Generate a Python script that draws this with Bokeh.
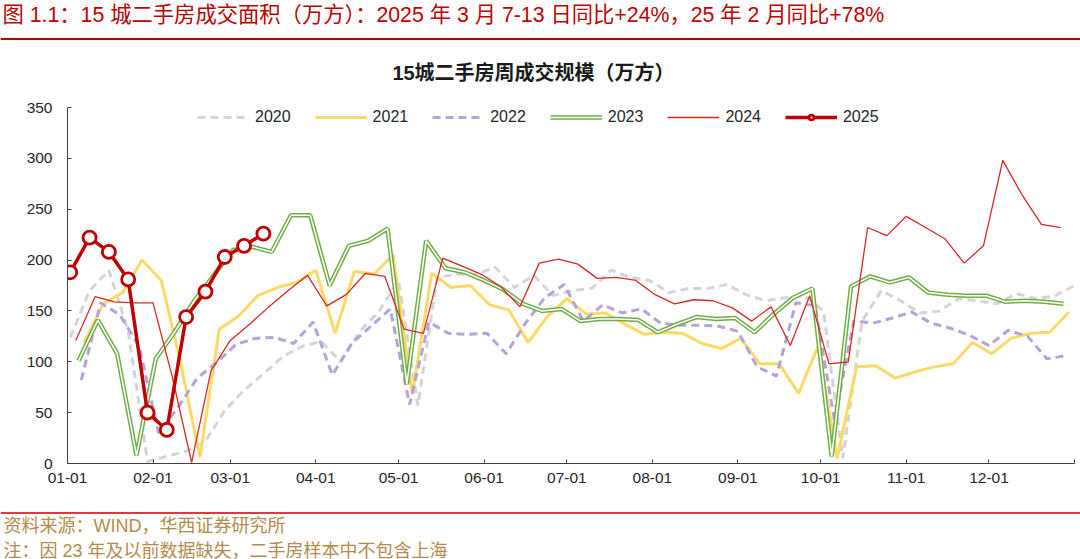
import pandas as pd
from bokeh.plotting import figure
from bokeh.layouts import column
from bokeh.models import Range1d, FixedTicker, Legend, LegendItem
from bokeh.core.properties import value
from bokeh.embed import file_html
from bokeh.resources import INLINE

# ---------------- data ----------------
month_ticks = [0, 31, 59, 90, 120, 151, 181, 212, 243, 273, 304, 334, 365]
month_labels = ["01-01", "02-01", "03-01", "04-01", "05-01", "06-01", "07-01",
                "08-01", "09-01", "10-01", "11-01", "12-01", ""]
y_ticks = [0, 50, 100, 150, 200, 250, 300, 350]

# first weekly data date (Thursday) of each year
start_2020 = "2020-01-02"
start_2021 = "2021-01-07"
start_2022 = "2022-01-06"
start_2023 = "2023-01-05"
start_2024 = "2024-01-04"
start_2025 = "2025-01-02"

v2020 = [124, 170, 190, 130, 2, 7, 12, 22, 52, 72, 88, 105, 115, 120, 100, 130, 150, 180,
         57, 183, 186, 186, 193, 173, 185, 165, 170, 172, 190, 183, 180, 168, 172, 172, 176,
         166, 160, 163, 165, 150, 5, 140, 170, 160, 148, 150, 162, 160, 157, 167, 162, 165, 175]
v2021 = [119, 157, 168, 200, 180, 99, 6, 132, 145, 165, 173, 178, 190, 128, 189, 186, 205,
         68, 187, 173, 175, 156, 151, 119, 145, 162, 147, 148, 137, 127, 129, 128, 118, 113,
         123, 98, 98, 69, 115, 5, 95, 96, 84, 90, 95, 98, 119, 108, 123, 128, 129, 149]
v2022 = [82, 158, 146, 115, 30, 55, 84, 99, 117, 123, 124, 118, 139, 87, 118, 135, 152, 58,
         139, 128, 127, 128, 108, 138, 163, 176, 140, 156, 148, 152, 138, 136, 136, 135, 130,
         95, 86, 158, 155, 42, 140, 138, 143, 149, 138, 133, 126, 116, 131, 125, 103, 106]
v2023 = [101, 141, 108, 8, 103, 130, 160, 185, 210, 213, 208, 244, 244, 175, 214, 219, 231,
         78, 219, 192, 188, 180, 171, 157, 150, 152, 140, 142, 142, 141, 129, 137, 144, 142,
         143, 129, 147, 163, 172, 7, 174, 184, 178, 183, 168, 166, 165, 165, 159, 160, 159, 157]
v2024 = [121, 164, 159, 158, 158, 85, 1, 91, 121, 137, 154, 170, 185, 155, 166, 187, 184,
         132, 128, 202, 194, 186, 174, 154, 197, 201, 196, 182, 183, 180, 166, 157, 161, 160,
         153, 140, 154, 116, 165, 98, 100, 232, 224, 243, 232, 221, 197, 214, 298, 264, 235, 232]
v2025 = [188, 222, 208, 181, 50, 33, 144, 169, 203, 214, 226]

title_text = "图 1.1：15 城二手房成交面积（万方）：2025 年 3 月 7-13 日同比+24%，25 年 2 月同比+78%"
chart_title = "15城二手房周成交规模（万方）"
source_text = "资料来源：WIND，华西证券研究所"
note_text = "注：因 23 年及以前数据缺失，二手房样本中不包含上海"


def week_x(start, n):
    d = pd.date_range(start, periods=n, freq="7D")
    base = pd.Timestamp(d[0].year, 1, 1)
    return [int(v) for v in (d - base).days]


x2020 = week_x(start_2020, len(v2020))
x2021 = week_x(start_2021, len(v2021))
x2022 = week_x(start_2022, len(v2022))
x2023 = week_x(start_2023, len(v2023))
x2024 = week_x(start_2024, len(v2024))
x2025 = week_x(start_2025, len(v2025))

FONT = "Liberation Sans, Noto Sans CJK SC"
W = 1080
TOP_H = 90
MAIN_H = 415
BOT_H = 54


def blank(h):
    f = figure(width=W, height=h, output_backend="svg", toolbar_location=None,
               x_range=Range1d(0, W), y_range=Range1d(h, 0),
               x_axis_type=None, y_axis_type=None, min_border=0, frame_align=False)
    f.outline_line_color = None
    f.xgrid.grid_line_color = None
    f.ygrid.grid_line_color = None
    f.background_fill_color = "white"
    f.border_fill_color = "white"
    return f


# ---------------- header ----------------
top = blank(TOP_H)
top.text(x=[2], y=[14], text=[title_text], text_font=value(FONT), text_font_size="21.3px",
         text_color="#c00000", text_baseline="middle", text_align="left")
top.line(x=[0, W], y=[38.5, 38.5], line_color="#c00000", line_width=2)
top.text(x=[533], y=[72], text=[chart_title], text_font=value(FONT), text_font_size="20px",
         text_font_style="bold", text_color="#1a1a1a", text_baseline="middle",
         text_align="center")

# ---------------- main chart ----------------
p = figure(width=W, height=MAIN_H, output_backend="svg", toolbar_location=None,
           x_range=Range1d(0, 365), y_range=Range1d(0, 350), frame_align=False,
           min_border_left=67, min_border_right=6, min_border_top=17, min_border_bottom=42)
p.outline_line_color = None
p.xgrid.grid_line_color = None
p.ygrid.grid_line_color = None
p.background_fill_color = "white"
p.border_fill_color = "white"

for ax in (p.xaxis[0], p.yaxis[0]):
    ax.axis_line_color = "#404040"
    ax.axis_line_width = 1
    ax.major_tick_line_color = "#404040"
    ax.major_tick_in = 4
    ax.major_tick_out = 0
    ax.minor_tick_line_color = None
    ax.major_label_text_font = "Liberation Sans"
    ax.major_label_text_font_size = "15.5px"
    ax.major_label_text_color = "#262626"

p.xaxis.ticker = FixedTicker(ticks=month_ticks)
p.xaxis.major_label_overrides = {t: l for t, l in zip(month_ticks, month_labels)}
p.xaxis.major_label_standoff = 9
p.yaxis.ticker = FixedTicker(ticks=y_ticks)
p.yaxis.major_label_standoff = 15

r20 = p.line(x2020, v2020, line_color="#d4d4d4", line_width=3, line_dash="8 5")
r21 = p.line(x2021, v2021, line_color="#ffd966", line_width=3)
r22 = p.line(x2022, v2022, line_color="#b4a2da", line_width=3, line_dash="8 5")
r23a = p.line(x2023, v2023, line_color="#70ad47", line_width=4.5)
r23b = p.line(x2023, v2023, line_color="white", line_width=1.5)
r24 = p.line(x2024, v2024, line_color="#dc2626", line_width=1.3)
r25 = p.line(x2025, v2025, line_color="#c00000", line_width=3.5)
r25m = p.scatter(x2025, v2025, marker="circle", size=13, fill_color="white",
                 line_color="#c00000", line_width=2.8)

legend = Legend(items=[
    LegendItem(label="2020", renderers=[r20]),
    LegendItem(label="2021", renderers=[r21]),
    LegendItem(label="2022", renderers=[r22]),
    LegendItem(label="2023", renderers=[r23a, r23b]),
    LegendItem(label="2024", renderers=[r24]),
    LegendItem(label="2025", renderers=[r25, r25m]),
], orientation="horizontal", location=(130, 337), glyph_width=52, glyph_height=12,
    label_height=12, label_standoff=6, spacing=24, padding=0, margin=0,
    border_line_color=None, background_fill_alpha=0,
    label_text_font="Liberation Sans", label_text_font_size="16px",
    label_text_color="#262626")
p.add_layout(legend)

# ---------------- footer ----------------
bot = blank(BOT_H)
bot.line(x=[0, W], y=[7.5, 7.5], line_color="#c00000", line_width=1.5)
bot.text(x=[3], y=[20.5], text=[source_text], text_font=value(FONT), text_font_size="18px",
         text_color="#b48a4c", text_baseline="middle", text_align="left")
bot.text(x=[3], y=[45], text=[note_text], text_font=value(FONT), text_font_size="18px",
         text_color="#b48a4c", text_baseline="middle", text_align="left")

layout = column(top, p, bot, spacing=0)
open("out.html", "w").write(file_html(layout, INLINE))
